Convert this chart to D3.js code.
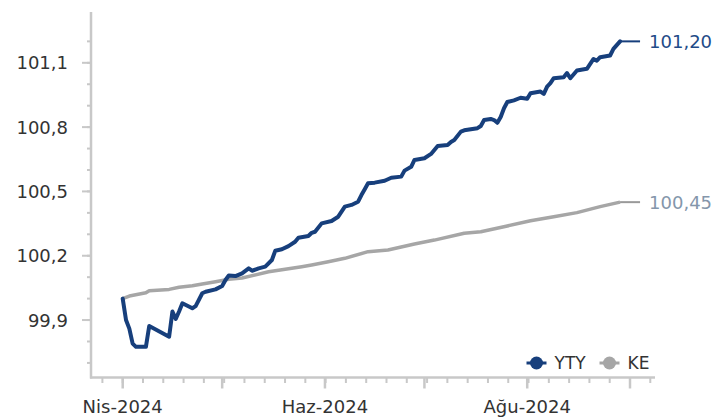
<!DOCTYPE html>
<html>
<head>
    <meta charset="utf-8">
    <title>YTY - KE</title>
    <script src="https://d3js.org/d3.v7.min.js"></script>
    <style>
        body { margin: 0; background: #fff; }
        text { font-family: "DejaVu Sans", Verdana, sans-serif; }
    </style>
</head>
<body>
    <div id="chart"></div>

    <script>
        // Data
        var ytyDates = ["2024-04-01","2024-04-02","2024-04-03","2024-04-04","2024-04-05","2024-04-08","2024-04-09",
            "2024-04-15","2024-04-16","2024-04-17","2024-04-18","2024-04-19","2024-04-22","2024-04-23","2024-04-25",
            "2024-04-26","2024-04-29","2024-05-01","2024-05-02","2024-05-03","2024-05-05","2024-05-07","2024-05-09",
            "2024-05-10","2024-05-12","2024-05-14","2024-05-16","2024-05-17","2024-05-19","2024-05-21","2024-05-23",
            "2024-05-24","2024-05-27","2024-05-28","2024-05-29","2024-05-31","2024-06-03","2024-06-05","2024-06-07",
            "2024-06-09","2024-06-11","2024-06-12","2024-06-13","2024-06-14","2024-06-16","2024-06-19","2024-06-21",
            "2024-06-24","2024-06-25","2024-06-27","2024-06-28","2024-07-01","2024-07-03","2024-07-05","2024-07-08",
            "2024-07-09","2024-07-10","2024-07-12","2024-07-13","2024-07-17","2024-07-18","2024-07-19","2024-07-21",
            "2024-07-22","2024-07-23","2024-07-24","2024-07-25","2024-07-26","2024-07-28","2024-07-30","2024-08-01",
            "2024-08-02","2024-08-05","2024-08-06","2024-08-07","2024-08-08","2024-08-09","2024-08-12","2024-08-13",
            "2024-08-14","2024-08-16","2024-08-19","2024-08-20","2024-08-21","2024-08-22","2024-08-23","2024-08-26",
            "2024-08-27","2024-08-29"];
        var ytyValues = [100.00, 99.90, 99.86, 99.79, 99.775, 99.775, 99.872,
            99.822, 99.94, 99.905, 99.94, 99.978, 99.955, 99.965, 100.025,
            100.032, 100.043, 100.059, 100.087, 100.108, 100.105, 100.118, 100.141,
            100.13, 100.141, 100.149, 100.18, 100.223, 100.23, 100.245, 100.265,
            100.284, 100.292, 100.307, 100.312, 100.351, 100.362, 100.382, 100.429,
            100.437, 100.452, 100.483, 100.51, 100.538, 100.541, 100.55, 100.564,
            100.569, 100.597, 100.615, 100.647, 100.655, 100.675, 100.712, 100.717,
            100.731, 100.74, 100.779, 100.785, 100.795, 100.805, 100.833, 100.838,
            100.833, 100.82, 100.847, 100.888, 100.917, 100.925, 100.937, 100.932,
            100.958, 100.966, 100.955, 100.989, 101.005, 101.028, 101.033, 101.052,
            101.028, 101.064, 101.072, 101.095, 101.118, 101.11, 101.126, 101.134,
            101.165, 101.20];

        var keDates = ["2024-04-01","2024-04-03","2024-04-08","2024-04-09","2024-04-15","2024-04-18","2024-04-22",
            "2024-04-25","2024-04-29","2024-05-03","2024-05-07","2024-05-15","2024-05-25","2024-05-28","2024-06-02",
            "2024-06-07","2024-06-14","2024-06-20","2024-06-28","2024-07-04","2024-07-13","2024-07-18","2024-07-26",
            "2024-08-02","2024-08-09","2024-08-16","2024-08-23","2024-08-29"];
        var keValues = [100.00, 100.012, 100.027, 100.037, 100.043, 100.053, 100.06,
            100.068, 100.079, 100.09, 100.096, 100.125, 100.149, 100.157, 100.172,
            100.188, 100.219, 100.227, 100.255, 100.273, 100.305, 100.312, 100.339,
            100.363, 100.382, 100.401, 100.429, 100.45];

        var seriesNames = ["YTY", "KE"];
        var yMajorTicks = [99.9, 100.2, 100.5, 100.8, 101.1];
        var xLabelDates = ["2024-04-01", "2024-06-01", "2024-08-01"];
        var xLabels = ["Nis-2024", "Haz-2024", "Ağu-2024"];

        var width = 724, height = 419;
        var plotLeft = 91, plotRight = 655, plotTop = 12, plotBottom = 377.5;
        var blue = "#173f7c", gray = "#a6a6a6", axisColor = "#c8c8c8", textColor = "#333333";

        var parse = d3.timeParse("%Y-%m-%d");
        var yty = ytyDates.map(function(d, i) { return { date: parse(d), value: ytyValues[i] }; });
        var ke = keDates.map(function(d, i) { return { date: parse(d), value: keValues[i] }; });

        var svg = d3.select("#chart").append("svg")
            .attr("width", width)
            .attr("height", height);

        var apr1 = parse("2024-04-01"), sep1 = parse("2024-09-01");
        var x = d3.scaleTime()
            .domain([apr1, sep1])
            .range([122.7, 630]);
        var y = d3.scaleLinear()
            .domain([99.632, 101.337])
            .range([plotBottom, plotTop]);

        var comma = function(v, n) { return v.toFixed(n).replace(".", ","); };

        // y axis
        var yMinor = d3.range(99.7, 101.25, 0.1);
        svg.append("g").selectAll("line").data(yMinor).enter().append("line")
            .attr("x1", plotLeft - 4).attr("x2", plotLeft)
            .attr("y1", function(d) { return y(d); }).attr("y2", function(d) { return y(d); })
            .attr("stroke", axisColor).attr("stroke-width", 2);
        svg.append("g").selectAll("line").data(yMajorTicks).enter().append("line")
            .attr("x1", plotLeft - 9).attr("x2", plotLeft)
            .attr("y1", function(d) { return y(d); }).attr("y2", function(d) { return y(d); })
            .attr("stroke", axisColor).attr("stroke-width", 2);
        svg.append("g").selectAll("text").data(yMajorTicks).enter().append("text")
            .attr("x", 68)
            .attr("y", function(d) { return y(d); })
            .attr("dy", "0.36em")
            .attr("text-anchor", "end")
            .style("font-size", "18px")
            .style("fill", textColor)
            .text(function(d) { return comma(d, 1); });
        svg.append("line")
            .attr("x1", plotLeft).attr("x2", plotLeft)
            .attr("y1", plotTop).attr("y2", plotBottom + 1)
            .attr("stroke", axisColor).attr("stroke-width", 2.5);

        // x axis
        var minorStep = (sep1 - apr1) / 25;
        var xMinor = d3.range(-1, 27).map(function(k) { return new Date(apr1.getTime() + k * minorStep); });
        var xMajor = d3.timeMonth.range(apr1, parse("2024-09-02"));
        svg.append("g").selectAll("line").data(xMinor).enter().append("line")
            .attr("x1", function(d) { return x(d); }).attr("x2", function(d) { return x(d); })
            .attr("y1", plotBottom).attr("y2", plotBottom + 5.5)
            .attr("stroke", axisColor).attr("stroke-width", 2);
        svg.append("g").selectAll("line").data(xMajor).enter().append("line")
            .attr("x1", function(d) { return x(d); }).attr("x2", function(d) { return x(d); })
            .attr("y1", plotBottom).attr("y2", plotBottom + 11)
            .attr("stroke", axisColor).attr("stroke-width", 2.5);
        svg.append("line")
            .attr("x1", plotLeft - 1).attr("x2", plotRight)
            .attr("y1", plotBottom).attr("y2", plotBottom)
            .attr("stroke", axisColor).attr("stroke-width", 2.5);
        svg.append("g").selectAll("text").data(xLabelDates).enter().append("text")
            .attr("x", function(d) { return x(parse(d)); })
            .attr("y", 413)
            .attr("text-anchor", "middle")
            .style("font-size", "18px")
            .style("fill", textColor)
            .text(function(d, i) { return xLabels[i]; });

        // lines
        var line = d3.line()
            .x(function(d) { return x(d.date); })
            .y(function(d) { return y(d.value); });

        svg.append("path").datum(ke)
            .attr("d", line)
            .attr("fill", "none")
            .attr("stroke", gray)
            .attr("stroke-width", 3.5)
            .attr("stroke-linejoin", "round");
        svg.append("path").datum(yty)
            .attr("d", line)
            .attr("fill", "none")
            .attr("stroke", blue)
            .attr("stroke-width", 4)
            .attr("stroke-linejoin", "round")
            .attr("stroke-linecap", "round");

        // end labels with short leader lines
        var ends = [
            { d: yty[yty.length - 1], stroke: blue, text: "#1f4b88", w: 2 },
            { d: ke[ke.length - 1], stroke: "#999999", text: "#8496ab", w: 2 }
        ];
        ends.forEach(function(e) {
            var ex = x(e.d.date), ey = y(e.d.value);
            svg.append("line")
                .attr("x1", ex).attr("x2", ex + 20)
                .attr("y1", ey).attr("y2", ey)
                .attr("stroke", e.stroke).attr("stroke-width", e.w);
            svg.append("text")
                .attr("x", ex + 29)
                .attr("y", ey)
                .attr("dy", "0.36em")
                .style("font-size", "18px")
                .style("fill", e.text)
                .text(comma(e.d.value, 2));
        });

        // legend
        var legendX = [536.5, 609.5];
        var legendColors = [blue, gray];
        var legend = svg.append("g").selectAll("g").data(seriesNames).enter().append("g")
            .attr("transform", function(d, i) { return "translate(" + legendX[i] + ",363)"; });
        legend.append("line")
            .attr("x1", -10).attr("x2", 10)
            .attr("stroke", function(d, i) { return legendColors[i]; })
            .attr("stroke-width", 3);
        legend.append("circle")
            .attr("r", 6.5)
            .attr("fill", function(d, i) { return legendColors[i]; });
        legend.append("text")
            .attr("x", 18)
            .attr("dy", "0.36em")
            .style("font-size", "17px")
            .style("fill", textColor)
            .text(function(d) { return d; });
    </script>
</body>
</html>
